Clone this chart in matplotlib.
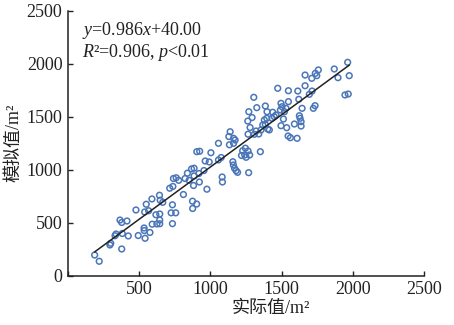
import matplotlib
matplotlib.use("Agg")
import matplotlib.pyplot as plt
import numpy as np

# Observed (actual) vs simulated values, m²
actual = [187, 219, 294, 300, 330, 337, 377, 365, 377, 414, 381, 423, 477, 493, 534, 535,
          541, 575, 538, 549, 566, 589, 591, 617, 624, 644, 644, 644, 642, 647, 665, 733,
          724, 756, 733, 714, 736, 740, 759, 777, 810, 822, 838, 850, 867, 885, 885, 881,
          874, 903, 875, 922, 919, 954, 975, 1082, 1084, 904, 924, 963, 1003, 991, 1056,
          1056, 1075, 1138, 1129, 1162, 1173, 1133, 1162, 1157, 1161, 1169, 1180, 1190,
          1226, 1245, 1264, 1218, 1240, 1275, 1250, 1350, 1268, 1264, 1269, 1292, 1262,
          1278, 1320, 1308, 1339, 1304, 1325, 1367, 1378, 1395, 1385, 1402, 1413, 1355,
          1385, 1397, 1437, 1448, 1432, 1460, 1472, 1495, 1502, 1491, 1519, 1530, 1495,
          1512, 1535, 1547, 1547, 1545, 1561, 1589, 1608, 1613, 1620, 1629, 1636, 1624,
          1643, 1636, 1664, 1664, 1694, 1713, 1722, 1734, 1711, 1736, 1746, 1757, 1869,
          1895, 1944, 1967, 1963, 1974]
simulated = [195, 136, 290, 306, 377, 393, 252, 525, 502, 516, 398, 375, 620, 379, 450, 426,
             353, 408, 601, 674, 613, 724, 486, 575, 488, 490, 525, 582, 759, 712, 692, 669,
             593, 593, 491, 825, 842, 917, 924, 900, 766, 917, 967, 900, 1007, 1014, 941, 851,
             703, 676, 634, 884, 964, 992, 816, 931, 884, 1170, 1174, 1082, 1160, 1073, 1249,
             1092, 1115, 1358, 1313, 1296, 1280, 1235, 1249, 1075, 1044, 1013, 991, 975,
             1179, 1203, 1176, 1134, 1139, 1139, 1117, 1170, 972, 1335, 1547, 1492, 1459,
             1398, 1365, 1334, 1337, 1683, 1585, 1422, 1469, 1485, 1426, 1384, 1375, 1375,
             1601, 1547, 1542, 1500, 1485, 1516, 1768, 1626, 1594, 1563, 1547, 1579, 1415,
             1478, 1396, 1745, 1642, 1318, 1302, 1431, 1296, 1742, 1664, 1485, 1453, 1509,
             1579, 1412, 1792, 1893, 1711, 1742, 1579, 1604, 1862, 1909, 1887, 1941, 1950,
             1868, 1705, 1714, 2013, 1887]

# Fitted line: y = slope * x + intercept
slope = 0.986
intercept = 40.00
r_squared = 0.906

ticks = [0, 500, 1000, 1500, 2000, 2500]

serif = ["Liberation Serif", "Noto Sans CJK SC"]
plt.rcParams["font.family"] = serif
plt.rcParams["mathtext.fontset"] = "custom"
plt.rcParams["mathtext.rm"] = "Liberation Serif"
plt.rcParams["mathtext.it"] = "Liberation Serif:italic"

fig = plt.figure(figsize=(4.54, 3.25), dpi=100)
ax = fig.add_axes([0.1498, 0.1517, 0.7845, 0.8154])

ax.scatter(actual, simulated, s=17, facecolors="none", edgecolors="#4a76b8",
           linewidths=1.1, zorder=3)

xs = np.array([min(actual), max(actual)])
ax.plot(xs, slope * xs + intercept, color="#222222", lw=1.1, zorder=4)

ax.set_xlim(0, 2500)
ax.set_ylim(0, 2500)
ax.set_xticks(ticks)
ax.set_yticks(ticks)
ax.set_xticklabels([""] + [str(t) for t in ticks[1:]])
ax.set_yticklabels([str(t) for t in ticks])

for side in ("top", "right"):
    ax.spines[side].set_visible(False)
for side in ("left", "bottom"):
    ax.spines[side].set_linewidth(1.1)
    ax.spines[side].set_color("#222222")

ax.tick_params(direction="in", length=3.5, width=1.0, labelsize=13,
               colors="#222222", pad=4)

ax.set_xlabel("实际值/m²", fontsize=13, color="#222222")
ax.xaxis.set_label_coords(0.57, -0.09)
ax.set_ylabel("模拟值/m²", fontsize=13, color="#222222")
ax.yaxis.set_label_coords(-0.128, 0.5)

ax.text(0.04, 0.925, r"$y$=%.3f$x$+%.2f" % (slope, intercept), transform=ax.transAxes,
        fontsize=13, color="#222222", va="center", ha="left")
ax.text(0.04, 0.842, r"$R$²=%.3f, $p$<0.01" % r_squared, transform=ax.transAxes,
        fontsize=13, color="#222222", va="center", ha="left")

fig.savefig("out.png", dpi=100)
